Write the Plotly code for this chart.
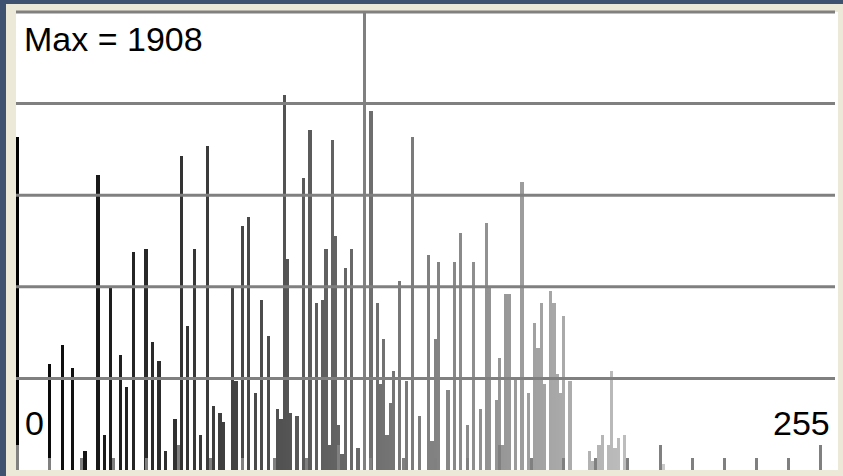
import plotly.graph_objects as go

# ---- data ----
bins = [0, 10, 14, 17, 21, 25, 27, 29, 32, 34, 36, 40, 42, 44, 46, 49, 51, 53, 55, 57, 59, 61, 63, 64,
        67, 68, 70, 72, 74, 76, 78, 81, 82, 83, 84, 85, 87, 89, 91, 93, 95, 96, 97, 98, 99, 100, 101,
        102, 104, 106, 110, 112, 113, 114, 115, 116, 117, 119, 121, 123, 125, 128, 129, 130, 131, 134,
        136, 138, 140, 142, 144, 146, 147, 149, 150, 151, 152, 153, 155, 157, 159, 161, 162, 163, 164,
        166, 167, 168, 169, 170, 172, 178, 179, 181, 182, 184, 185, 186, 187, 189, 201]
counts = [1694, 539, 636, 519, 97, 1501, 178, 931, 585, 422, 1109, 1124, 651, 555, 97, 259, 1598, 733,
          1124, 178, 1649, 326, 290, 244,
          931, 453, 1241, 1287, 392, 865, 682, 310, 259, 1908, 1074, 290, 275, 1486, 1730, 850, 865,
          1124, 127, 1679, 1191, 229, 81,
          1028, 1124, 112, 1827, 850, 438, 667, 178, 341, 504, 962, 453, 1694, 275, 1094, 148, 667,
          1058, 407,
          1058, 1206, 229, 1058, 310, 1257, 931, 356, 570, 127, 895, 895, 458, 1465, 392, 748, 621,
          850, 438,
          911, 850, 488, 392, 784, 453, 97, 46, 127, 178, 127, 504, 112, 163, 178, 31]
marker_bin = 108
range_labels = ["0", "255"]

# ---- geometry helpers (pixels of the 843x476 canvas) ----
W, H = 843, 476
ML, MR, MT, MB = 16, 5, 12, 6
PW, PH = W - ML - MR, H - MT - MB
PX_PER_BIN = 3.212
Y_TOP = max(counts) * PH / 375.0


def px(x):
    return (x - ML) / PW


def py(y):
    return (H - MB - y) / PH


GRID = "#808080"
BEIGE = "#ECE9D8"
BLUE = "#3f5270"

colors = [f"rgb({b},{b},{b})" for b in bins]

fig = go.Figure(go.Bar(x=bins, y=counts, width=1, marker=dict(color=colors, line=dict(width=0)),
                       hoverinfo="skip"))

shapes = []
for f in [0.2, 0.4, 0.6, 0.8, 1.0]:
    shapes.append(dict(type="line", xref="paper", yref="paper", x0=0, x1=px(835), y0=f, y1=f,
                       line=dict(color=GRID, width=3), layer="above"))
shapes.append(dict(type="line", xref="x", yref="paper", x0=marker_bin, x1=marker_bin, y0=0, y1=1,
                   line=dict(color=GRID, width=3), layer="above"))
# window frame
shapes.append(dict(type="rect", xref="paper", yref="paper", x0=px(0), x1=px(6), y0=py(H), y1=py(0),
                   fillcolor=BLUE, line=dict(width=0), layer="above"))
shapes.append(dict(type="rect", xref="paper", yref="paper", x0=px(0), x1=px(W), y0=py(4), y1=py(0),
                   fillcolor=BLUE, line=dict(width=0), layer="above"))

font = dict(family="Liberation Sans, Arial, sans-serif", size=34, color="black")
annotations = [
    dict(text=f"Max = {max(counts)}", xref="paper", yref="paper", x=px(22), y=py(39),
         xanchor="left", yanchor="middle", showarrow=False, font=font),
    dict(text=range_labels[0], xref="paper", yref="paper", x=px(23), y=py(423),
         xanchor="left", yanchor="middle", showarrow=False, font=font),
    dict(text=range_labels[1], xref="paper", yref="paper", x=px(832), y=py(423),
         xanchor="right", yanchor="middle", showarrow=False, font=font),
]

fig.update_layout(
    width=W, height=H,
    margin=dict(l=ML, r=MR, t=MT, b=MB, pad=0),
    paper_bgcolor=BEIGE, plot_bgcolor="white",
    bargap=0, showlegend=False,
    shapes=shapes, annotations=annotations,
    xaxis=dict(range=[-0.5, -0.5 + PW / PX_PER_BIN], showgrid=False, zeroline=False,
               showticklabels=False, showline=False,
               ticks="inside", tickmode="linear", tick0=0, dtick=50, ticklen=25, tickwidth=3,
               tickcolor=GRID,
               minor=dict(ticks="inside", tickmode="linear", tick0=0, dtick=10, ticklen=12,
                          tickwidth=3, tickcolor=GRID, showgrid=False),
               fixedrange=True),
    yaxis=dict(range=[0, Y_TOP], showgrid=False, zeroline=False, showticklabels=False,
               showline=False, ticks="", fixedrange=True),
)

fig.write_html(
    "out.html",
    config={"displayModeBar": False},
    post_script="document.body.style.margin='0';document.body.style.padding='0';"
                "document.body.style.overflow='hidden';",
)
